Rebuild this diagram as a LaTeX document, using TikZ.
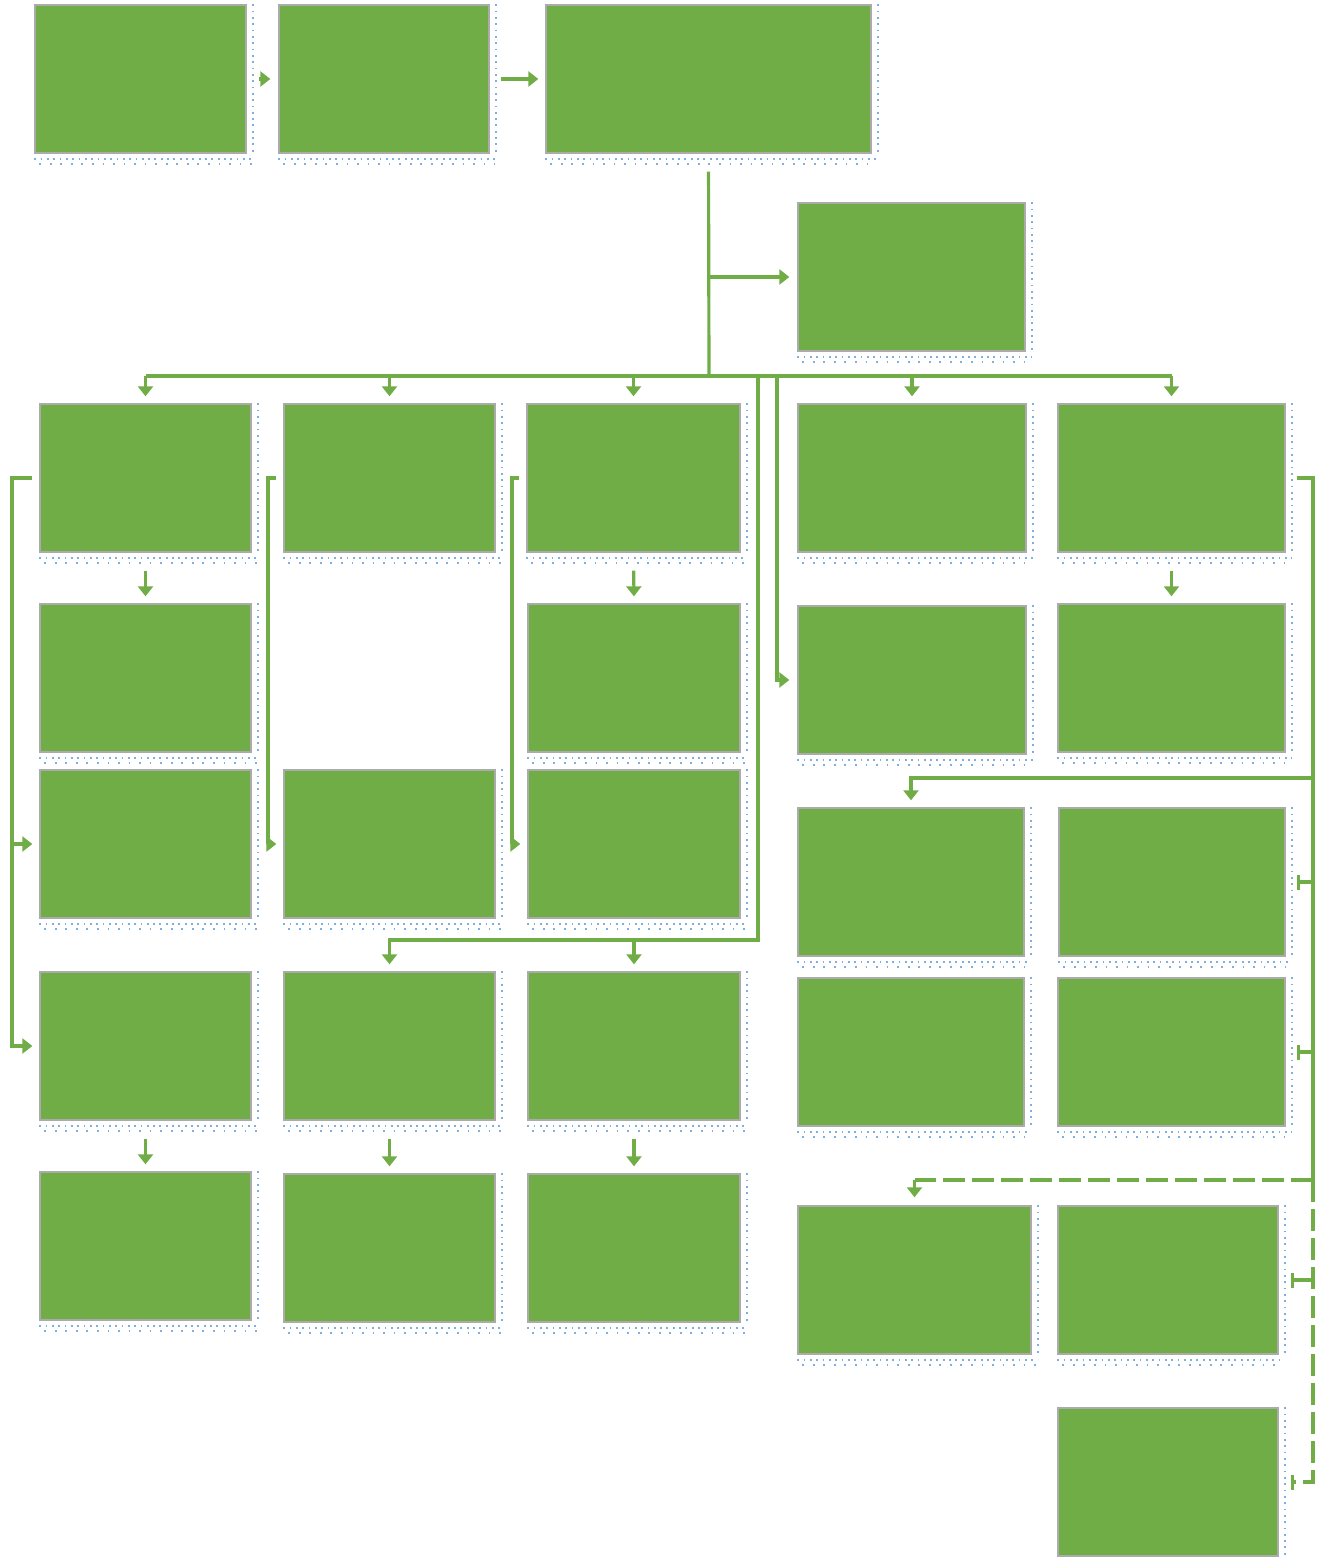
\documentclass[tikz,border=0pt]{standalone}
\usepackage{tikz}
\usetikzlibrary{arrows.meta, positioning, calc}
\definecolor{leafgreen}{HTML}{70AD47}
\definecolor{rimgray}{HTML}{ABABAB}
\definecolor{dotblue}{HTML}{7FAEE0}

\begin{document}
\begin{tikzpicture}[x=0.02cm, y=-0.02cm,
    panel/.style={draw=rimgray, fill=leafgreen, line width=0.8pt, inner sep=0pt,
                  minimum width=4.22cm, minimum height=2.96cm},
    link/.style={draw=leafgreen, line width=1.8pt},
    flow/.style={link, -{Triangle[width=0.3cm,length=0.2cm]}},
    stop/.style={link, -{Bar[width=0.3cm]}},
    drop/.style={flow, shorten <=0.36cm, shorten >=0.14cm},
    gapdash/.style={dash pattern=on 0.44cm off 0.14cm},
    dotrim/.style={draw=dotblue, line width=1.1pt, dash pattern=on 1pt off 2.6pt}]

    \useasboundingbox (0,0) rectangle (1327,1561);

    % Top row
    \node[panel] (a1) at (140.5,79) {};
    \node[panel, minimum width=4.2cm] (a2) at (384,79) {};
    \node[panel, minimum width=6.5cm] (a3) at (708.5,79) {};
    \node[panel, minimum width=4.54cm] (b) at (911.5,277) {};

    % First level under the bus
    \node[panel] (c1) at (145.5,478) {};
    \node[panel] (c2) at (389.5,478) {};
    \node[panel, minimum width=4.26cm] (c3) at (633.5,478) {};
    \node[panel, minimum width=4.56cm] (c4) at (912,478) {};
    \node[panel, minimum width=4.54cm] (c5) at (1171.5,478) {};

    % Second level
    \node[panel] (d1) at (145.5,678) {};
    \node[panel, minimum width=4.24cm] (d3) at (634,678) {};
    \node[panel, minimum width=4.56cm] (d4) at (912,680) {};
    \node[panel, minimum width=4.54cm] (d5) at (1171.5,678) {};

    % Left block
    \node[panel] (e1) at (145.5,844) {};
    \node[panel] (e2) at (389.5,844) {};
    \node[panel, minimum width=4.24cm] (e3) at (634,844) {};
    \node[panel] (g1) at (145.5,1046) {};
    \node[panel] (g2) at (389.5,1046) {};
    \node[panel, minimum width=4.24cm] (g3) at (634,1046) {};
    \node[panel] (i1) at (145.5,1246) {};
    \node[panel] (i2) at (389.5,1248) {};
    \node[panel, minimum width=4.24cm] (i3) at (634,1248) {};

    % Right block
    \node[panel, minimum width=4.52cm] (f4) at (911,882) {};
    \node[panel, minimum width=4.52cm] (f5) at (1172,882) {};
    \node[panel, minimum width=4.52cm] (h4) at (911,1052) {};
    \node[panel, minimum width=4.54cm] (h5) at (1171.5,1052) {};
    \node[panel, minimum width=4.66cm] (j4) at (914.5,1280) {};
    \node[panel, minimum width=4.4cm] (j5) at (1168,1280) {};
    \node[panel, minimum width=4.4cm] (k5) at (1168,1482) {};

    % Dotted rims
    \foreach \n in {a1,a2,a3,b,c1,c2,c3,c4,c5,d1,d3,d4,d5,e1,e2,e3,g1,g2,g3,i1,i2,i3,f4,f5,h4,h5,j4,j5,k5} {
      \draw[dotrim] ([xshift=0.12cm]\n.north east) -- ([xshift=0.12cm]\n.south east);
      \draw[dotrim] ([yshift=-0.1cm]\n.south west) -- ([shift={(0.12cm,-0.1cm)}]\n.south east);
      \draw[dotrim, dash pattern=on 1pt off 5pt] ([shift={(0.1cm,-0.2cm)}]\n.south west) -- ([shift={(0.1cm,-0.2cm)}]\n.south east);
    }

    % Top chain
    \draw[flow, shorten <=0.24cm, shorten >=0.16cm] (a1.east) -- (a2.west);
    \draw[flow, shorten <=0.22cm, shorten >=0.14cm] (a2.east) -- (a3.west);

    % Hub and bus
    \coordinate (hub) at (709,376);
    \coordinate (tap) at (709,277);
    \coordinate (tapA) at (758,376);
    \coordinate (tapB) at (777,376);
    \draw[link, shorten <=0.36cm] (a3.south) -- (hub);
    \draw[flow, shorten >=0.16cm] (tap) -- (b.west);
    \draw[link] (c1.north |- hub) -- (c5.north |- hub);
    \foreach \n in {c1,c2,c3,c4,c5}
      \draw[flow, shorten >=0.14cm] (\n.north |- hub) -- (\n.north);

    % Straight drops
    \draw[drop] (c1.south) -- (d1.north);
    \draw[drop] (c3.south) -- (d3.north);
    \draw[drop] (c5.south) -- (d5.north);
    \draw[drop] (g1.south) -- (i1.north);
    \draw[drop] (g2.south) -- (i2.north);
    \draw[drop] (g3.south) -- (i3.north);

    % Left rails
    \coordinate (rail1) at (12,478);
    \coordinate (rail2) at (268,478);
    \coordinate (rail3) at (512,478);
    \draw[flow, shorten <=0.14cm, shorten >=0.14cm] (c1.west) -- (rail1) |- (g1.west);
    \draw[flow, shorten >=0.14cm] (rail1 |- e1.west) -- (e1.west);
    \draw[flow, shorten <=0.14cm, shorten >=0.14cm] (c2.west) -- (rail2) |- (e2.west);
    \draw[flow, shorten <=0.14cm, shorten >=0.14cm] (c3.west) -- (rail3) |- (e3.west);

    % Taps from the bus
    \coordinate (elbow) at (758,940);
    \draw[flow, shorten >=0.16cm] (tapB) |- (d4.west);
    \draw[flow, shorten >=0.14cm] (tapA) -- (elbow) -| (g2.north);
    \draw[flow, shorten >=0.14cm] (g3.north |- elbow) -- (g3.north);

    % Right rail
    \coordinate (railR) at (1313,478);
    \coordinate (cross) at (1313,778);
    \coordinate (split) at (1313,1180);
    \draw[link, shorten <=0.22cm] (c5.east) -- (railR) -- (split);
    \draw[flow, shorten >=0.14cm] (cross) -| (f4.north);
    \draw[stop, shorten >=0.22cm] (railR |- f5.east) -- (f5.east);
    \draw[stop, shorten >=0.22cm] (railR |- h5.east) -- (h5.east);
    \draw[link, gapdash] (split) -- (split -| j4.north);
    \draw[flow, shorten >=0.16cm] (split -| j4.north) -- (j4.north);
    \draw[stop, gapdash, shorten >=0.24cm] (split) |- (k5.east);
    \draw[stop, gapdash, shorten >=0.24cm] (split |- j5.east) -- (j5.east);

\end{tikzpicture}
\end{document}
